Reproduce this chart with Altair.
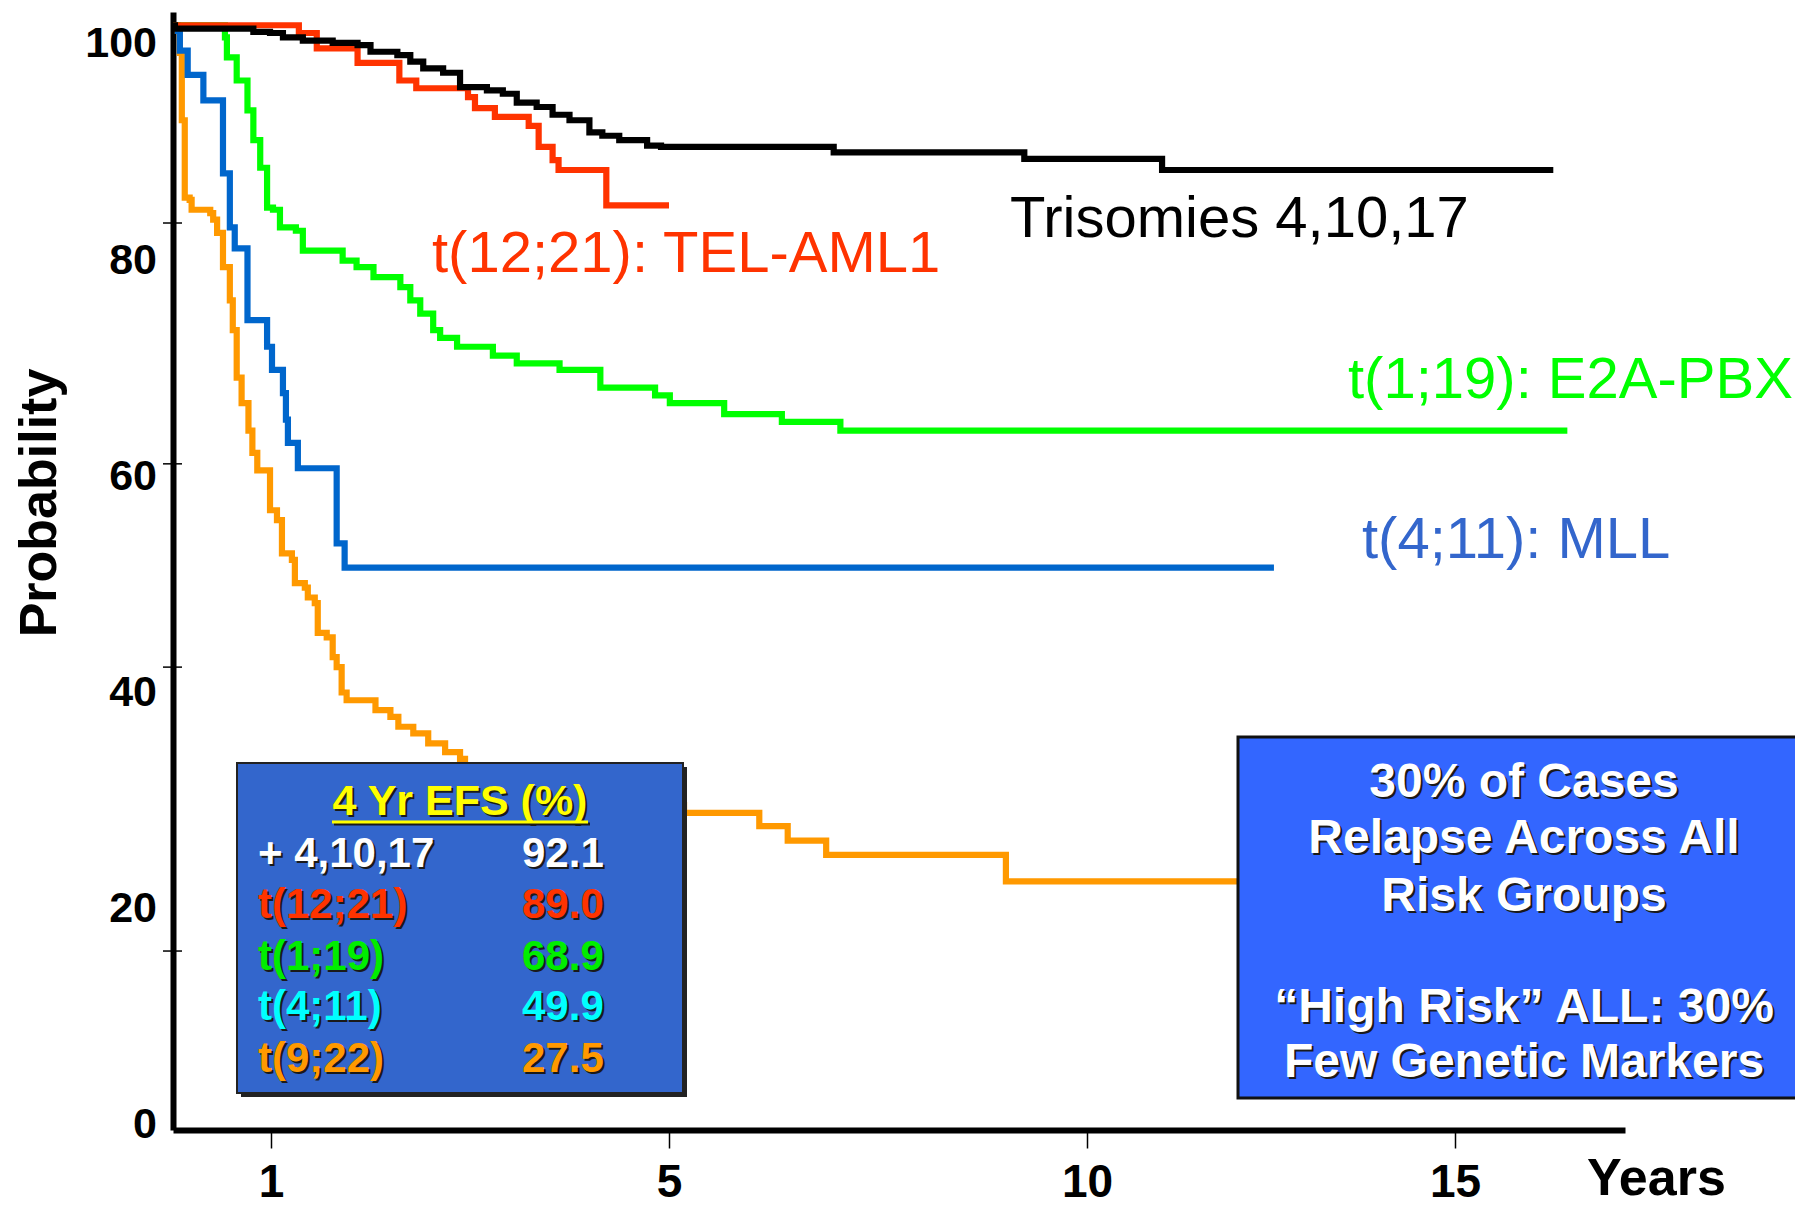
import altair as alt
import pandas as pd

FONT = "Liberation Sans"

# ---------------- data (years, probability %) ----------------
x_tick_values = [1, 5, 10, 15]
y_label_values = [0, 20, 40, 60, 80, 100]
y_tick_marks = [16.2, 41.9, 60.3, 82.1]

tri_t = [0, 0.02, 0.82, 0.99, 1.12, 1.32, 1.62, 1.87, 2.0, 2.27, 2.40, 2.53, 2.73, 2.90,
         3.17, 3.33, 3.47, 3.67, 3.83, 4.0, 4.20, 4.33, 4.50, 4.78, 4.92, 6.97, 9.25, 11.02, 16.33]
tri_v = [100, 99.7, 99.4, 99.3, 98.9, 98.6, 98.4, 98.2, 97.6, 97.3, 96.7, 96.1, 95.7, 94.4,
         94.1, 93.8, 93.0, 92.6, 91.9, 91.4, 90.3, 90.0, 89.6, 89.1, 89.0, 88.5, 87.9, 86.9, 86.9]

tel_t = [0, 1.28, 1.46, 1.87, 2.29, 2.46, 2.98, 3.05, 3.25, 3.59, 3.69, 3.83, 3.89, 4.37, 5.0]
tel_v = [100, 99.3, 97.9, 96.6, 95.0, 94.3, 93.5, 92.5, 91.7, 90.9, 89.0, 87.8, 86.9, 83.7, 83.7]

e2a_t = [0, 0.48, 0.53, 0.55, 0.65, 0.76, 0.82, 0.89, 0.96, 1.02, 1.09, 1.25, 1.32, 1.72, 1.86,
         2.03, 2.30, 2.40, 2.50, 2.63, 2.70, 2.87, 3.23, 3.47, 3.90, 4.31, 4.86, 5.01, 5.66,
         6.35, 7.05, 16.52]
e2a_v = [100, 100, 98.9, 97.1, 95.0, 92.3, 89.6, 87.1, 83.5, 83.3, 81.7, 81.4, 79.6, 78.7, 78.1,
         77.2, 76.3, 75.1, 73.9, 72.4, 71.7, 70.9, 70.1, 69.4, 68.8, 67.2, 66.5, 65.8, 64.8,
         64.1, 63.3, 63.3]

mll_t = [0, 0.05, 0.07, 0.15, 0.31, 0.51, 0.58, 0.63, 0.76, 0.96, 1.01, 1.12, 1.15, 1.17,
         1.27, 1.66, 1.74, 12.54]
mll_v = [100, 99.5, 97.7, 95.5, 93.2, 86.6, 81.7, 79.8, 73.3, 70.9, 68.8, 66.7, 64.3, 62.2,
         59.9, 53.1, 50.9, 50.9]

bcr_t = [0, 0.05, 0.07, 0.09, 0.12, 0.17, 0.19, 0.38, 0.41, 0.45, 0.51, 0.58, 0.61, 0.65,
         0.70, 0.77, 0.81, 0.86, 0.99, 1.06, 1.11, 1.21, 1.24, 1.34, 1.37, 1.44, 1.47, 1.56,
         1.62, 1.66, 1.71, 1.76, 2.05, 2.20, 2.28, 2.43, 2.58, 2.75, 2.90, 2.95, 3.4, 3.9, 4.5,
         5.18, 6.08, 6.42, 6.88, 9.03, 12.5]
bcr_v = [100, 99.5, 97.5, 91.4, 84.4, 84.2, 83.3, 83.0, 82.4, 81.2, 78.1, 75.1, 72.4, 68.1,
         65.8, 63.3, 61.3, 59.7, 56.1, 55.2, 52.2, 51.6, 49.5, 49.1, 48.2, 47.7, 45.0, 44.6,
         42.8, 41.9, 39.6, 38.9, 38.0, 37.4, 36.5, 35.9, 35.0, 34.2, 33.6, 32.4, 31.2, 30.2, 29.4,
         28.7, 27.5, 26.2, 24.9, 22.5, 22.5]

# drawing order: first drawn at bottom
series = [
    ("t(9;22)", bcr_t, bcr_v, "#FF9900"),
    ("t(4;11)", mll_t, mll_v, "#0066CC"),
    ("t(1;19)", e2a_t, e2a_v, "#00FF00"),
    ("t(12;21)", tel_t, tel_v, "#FF3300"),
    ("Trisomies", tri_t, tri_v, "#000000"),
]

efs_labels = ["+ 4,10,17", "t(12;21)", "t(1;19)", "t(4;11)", "t(9;22)"]
efs_values = ["92.1", "89.0", "68.9", "49.9", "27.5"]
efs_colors = ["#FFFFFF", "#FF3300", "#00EE00", "#00FFFF", "#FF9900"]

note_lines = ["30% of Cases", "Relapse Across All", "Risk Groups", "",
              "\u201cHigh Risk\u201d ALL: 30%", "Few Genetic Markers"]

curve_labels = [
    ("Trisomies 4,10,17", "#000000"),
    ("t(12;21): TEL-AML1", "#FF3300"),
    ("t(1;19): E2A-PBX", "#00FF00"),
    ("t(4;11): MLL", "#3366CC"),
]

# ---------------- layout ----------------
W, H = 1452, 1118
xs = alt.Scale(domain=[0, 1, 5, 10, 15, 17.3], range=[0, 98, 496, 914, 1282, 1452],
               nice=False, zero=False)
ys = alt.Scale(domain=[0, 101.2], nice=False, zero=False)

x_axis = alt.Axis(values=x_tick_values, grid=False, title=None, domainWidth=6,
                  domainColor="black", tickSize=18, tickWidth=1.5, tickColor="black",
                  labelFont=FONT, labelFontSize=46, labelFontWeight="bold",
                  labelColor="black", labelPadding=12, format="d")
y_axis = alt.Axis(labels=False, ticks=False, grid=False, title=None, domainWidth=6,
                  domainColor="black")

one = pd.DataFrame({"k": [0]})


def text_layer(s, x, y, size, color, weight="normal", align="left", angle=0,
               baseline="alphabetic", shadow=None):
    layers = []
    if shadow:
        layers.append(alt.Chart(one).mark_text(
            text=s, font=FONT, fontSize=size, fontWeight=weight, color=shadow,
            align=align, baseline=baseline, angle=angle, dx=2, dy=2
        ).encode(x=alt.value(x), y=alt.value(y)))
    layers.append(alt.Chart(one).mark_text(
        text=s, font=FONT, fontSize=size, fontWeight=weight, color=color,
        align=align, baseline=baseline, angle=angle
    ).encode(x=alt.value(x), y=alt.value(y)))
    return layers


def rect_layer(x, x2, y, y2, fill, stroke=None, sw=0):
    kw = dict(fill=fill)
    if stroke:
        kw.update(stroke=stroke, strokeWidth=sw)
    return alt.Chart(one).mark_rect(**kw).encode(
        x=alt.value(x), x2=alt.value(x2), y=alt.value(y), y2=alt.value(y2))


layers = []

# curves
for name, ts, vs, col in series:
    df = pd.DataFrame({"t": ts, "v": vs})
    layers.append(alt.Chart(df).mark_line(
        interpolate="step-after", strokeWidth=6.2, color=col, strokeJoin="miter"
    ).encode(x=alt.X("t:Q", scale=xs, axis=x_axis),
             y=alt.Y("v:Q", scale=ys, axis=y_axis)))

# y tick marks
layers.append(alt.Chart(pd.DataFrame({"v": y_tick_marks})).mark_rule(
    color="black", strokeWidth=1.5
).encode(x=alt.value(-10), x2=alt.value(9), y=alt.Y("v:Q", scale=ys, axis=y_axis)))

# y labels (hand placed on the slide: slightly compressed spacing)
layers.append(alt.Chart(pd.DataFrame({"v": y_label_values})).transform_calculate(
    pos="0.9783 * datum.v - 0.74", lab="format(datum.v, 'd')"
).mark_text(font=FONT, fontSize=43, fontWeight="bold", color="black",
            align="right", baseline="alphabetic"
).encode(x=alt.value(-16), y=alt.Y("pos:Q", scale=ys, axis=y_axis), text="lab:N"))

# axis titles
layers += text_layer("Years", 1414, 1183, 52, "black", weight="bold")
layers += text_layer("Probability", -133, 491, 52, "black", weight="bold",
                     align="center", angle=270, baseline="middle")

# curve labels
label_pos = [(837, 225), (259, 260), (1175, 386), (1189, 546)]
for (s, col), (x, y) in zip(curve_labels, label_pos):
    layers += text_layer(s, x, y, 58, col)

# left EFS box
layers.append(rect_layer(68, 514, 755, 1085, "#222222"))
layers.append(rect_layer(64, 510, 751, 1081, "#3366CC", "#222222", 2))
layers += text_layer("4 Yr EFS (%)", 287, 803, 43, "#FFFF00", weight="bold",
                     align="center", shadow="#1a1a1a")
layers.append(alt.Chart(one).mark_rule(color="#1a1a1a", strokeWidth=3).encode(
    x=alt.value(161), x2=alt.value(417), y=alt.value(812)))
layers.append(alt.Chart(one).mark_rule(color="#FFFF00", strokeWidth=3).encode(
    x=alt.value(159), x2=alt.value(415), y=alt.value(810)))
row_y = [855, 906, 958, 1008, 1060]
for lab, val, col, y in zip(efs_labels, efs_values, efs_colors, row_y):
    layers += text_layer(lab, 85, y, 42, col, weight="bold", shadow="#1a1a1a")
    layers += text_layer(val, 349, y, 42, col, weight="bold", shadow="#1a1a1a")

# right note box
layers.append(rect_layer(1065, 1650, 725, 1086, "#3366FF", "#111111", 3))
note_y = [785, 841, 899, 955, 1010, 1065]
for s, y in zip(note_lines, note_y):
    if s:
        layers += text_layer(s, 1351, y, 48, "#FFFFFF", weight="bold",
                             align="center", shadow="#1a1a1a")

chart = alt.layer(*layers).properties(
    width=W, height=H,
    padding={"left": 165, "top": 4, "right": 170, "bottom": 76},
    autosize=alt.AutoSizeParams(type="none"),
    background="white",
).configure_view(stroke=None)

chart.save("out.html", embed_options={"renderer": "svg", "actions": False})
